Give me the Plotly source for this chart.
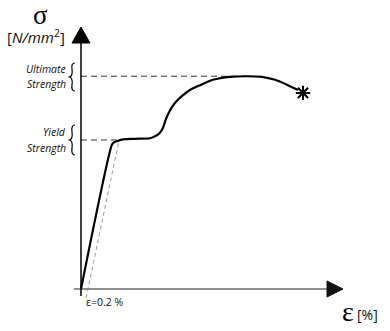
import plotly.graph_objects as go

# Schematic stress-strain data (strain in %, stress in N/mm^2)
strain = [0, 1.03, 1.1, 1.2, 1.4, 1.8, 2.3, 2.5, 2.63, 2.73, 2.83, 2.97, 3.13,
          3.37, 3.63, 3.97, 4.4, 4.97, 5.53, 6.03, 6.47, 6.9, 7.23]
stress = [0, 242, 246, 248, 251, 252, 253, 257, 262, 270, 285, 300, 312,
          324, 334, 342, 351, 356, 357, 356, 351, 342, 334]
fracture_strain = [7.4]
fracture_stress = [329]
yield_stress = 250
yield_strain = 1.2
ultimate_stress = 357
ultimate_strain = 5.53
offset_strain = [0.17, 1.25]
offset_stress = [-15, 245]

fig = go.Figure()

# offset (0.2 %) line
fig.add_trace(go.Scatter(x=offset_strain, y=offset_stress, mode="lines",
                         line=dict(color="#999999", width=1, dash="4px,3px"),
                         hoverinfo="skip"))
# reference dashed lines
fig.add_trace(go.Scatter(x=[0, yield_strain], y=[yield_stress, yield_stress], mode="lines",
                         line=dict(color="#333333", width=1, dash="6px,4px"), hoverinfo="skip"))
fig.add_trace(go.Scatter(x=[0, ultimate_strain], y=[ultimate_stress, ultimate_stress], mode="lines",
                         line=dict(color="#333333", width=1, dash="6px,4px"), hoverinfo="skip"))
# main curve
fig.add_trace(go.Scatter(x=strain, y=stress, mode="lines",
                         line=dict(color="black", width=2.2, shape="spline", smoothing=0.6),
                         hoverinfo="skip"))
fig.add_trace(go.Scatter(x=fracture_strain, y=fracture_stress, mode="markers",
                         marker=dict(symbol="asterisk-open", size=12, color="black",
                                     line=dict(color="black", width=2)),
                         hoverinfo="skip"))
# invisible trace to activate decoration axes
fig.add_trace(go.Scatter(x=[0], y=[0], xaxis="x2", yaxis="y2", mode="markers",
                         marker=dict(opacity=0), hoverinfo="skip"))

def sh(path=None, **kw):
    d = dict(xref="x2", yref="y2")
    if path:
        d.update(type="path", path=path)
    d.update(kw)
    return d

shapes = [
    # horizontal axis (grey)
    sh(type="line", x0=74, x1=330, y0=289, y1=289, line=dict(color="#6b6b6b", width=1.5)),
    # vertical axis (black)
    sh(type="line", x0=81, x1=81, y0=296, y1=42, line=dict(color="black", width=1.5)),
    # arrowheads
    sh("M 72,43 L 90,43 L 81,27 Z", fillcolor="black", line=dict(color="black", width=1)),
    sh("M 327,281 L 327,297 L 343,289 Z", fillcolor="#111111", line=dict(color="#111111", width=1)),
    # braces
    sh("M 75,63 Q 71,63 72,69 Q 73,76 69.5,77 Q 73,78 72,85 Q 71,91 75,91",
       line=dict(color="black", width=1.2)),
    sh("M 75,125 Q 71,125 72,132 Q 73,139 69.5,140 Q 73,141 72,148 Q 71,155 75,155",
       line=dict(color="black", width=1.2)),
]

def txt(t, x, y, size, xanchor="center", italic=False, family="Open Sans", color="#111111"):
    return dict(text=t, x=x, y=y, xref="x2", yref="y2", showarrow=False,
                xanchor=xanchor, yanchor="middle",
                font=dict(family=family, size=size, color=color,
                          style="italic" if italic else "normal"))

annotations = [
    txt("σ", 40, 15, 27, family="Liberation Serif", color="black"),
    txt("[<i>N/mm</i><sup>2</sup>]", 36, 36, 15),
    txt("Ultimate", 68, 69, 10.5, xanchor="right", italic=True),
    txt("Strength", 68, 84, 10.5, xanchor="right", italic=True),
    txt("Yield", 68, 132, 10.5, xanchor="right", italic=True),
    txt("Strength", 68, 148, 10.5, xanchor="right", italic=True),
    txt("ε=0.2 %", 84, 302, 10.5, xanchor="left"),
    txt("ε", 340, 311, 28, xanchor="left", family="Liberation Serif", color="black"),
    txt("[%]", 355, 314, 14, xanchor="left"),
]

fig.update_layout(
    width=390, height=331, margin=dict(l=0, r=0, t=0, b=0),
    paper_bgcolor="white", plot_bgcolor="white", showlegend=False,
    xaxis=dict(range=[-2.7, 10.3], visible=False, fixedrange=True),
    yaxis=dict(range=[-70.47, 484.9], visible=False, fixedrange=True),
    xaxis2=dict(range=[0, 390], visible=False, overlaying="x", fixedrange=True),
    yaxis2=dict(range=[331, 0], visible=False, overlaying="y", fixedrange=True),
    shapes=shapes, annotations=annotations,
)

fig.write_html("out.html")
